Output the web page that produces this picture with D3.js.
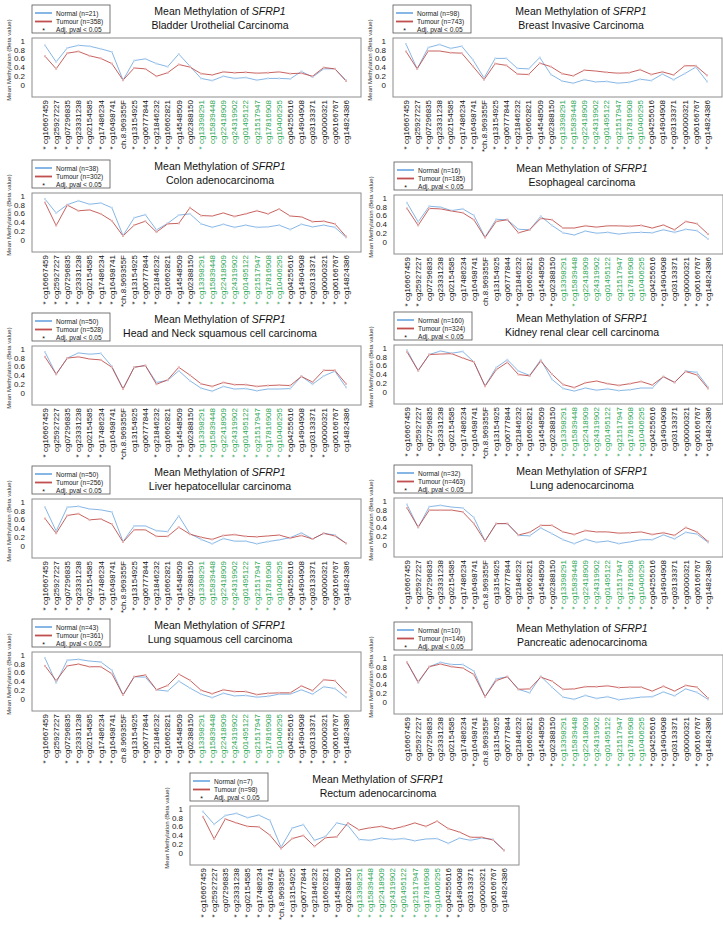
<!DOCTYPE html>
<html><head><meta charset="utf-8">
<script src="https://cdn.jsdelivr.net/npm/d3@7"></script>
<style>body{margin:0;background:#fff;} svg{display:block;font-family:"Liberation Sans",Arial,sans-serif;}</style>
</head><body><svg id="chart" width="723" height="926"></svg>
<script>
const probes = ["cg16667459","cg25927227","cg07296835","cg23331238","cg02154585","cg17486234","cg16498741","ch.8.969355F","cg13154925","cg06777844","cg21846232","cg16662821","cg14548509","cg02388150","cg13398291","cg15839448","cg22418909","cg24319902","cg01495122","cg21517947","cg17816908","cg10406295","cg04255616","cg14904908","cg03133371","cg00000321","cg06166767","cg14824386"];
const greenProbes = ["cg13398291","cg15839448","cg22418909","cg24319902","cg01495122","cg21517947","cg17816908","cg10406295"];
const cancerTypes = ["Bladder Urothelial Carcinoma","Breast Invasive Carcinoma","Colon adenocarcinoma","Esophageal carcinoma","Head and Neck squamous cell carcinoma","Kidney renal clear cell carcinoma","Liver hepatocellular carcinoma","Lung adenocarcinoma","Lung squamous cell carcinoma","Pancreatic adenocarcinoma","Rectum adenocarcinoma"];
const normalN = [21,98,38,16,50,160,50,32,43,10,7];
const tumourN = [358,743,302,185,528,324,256,463,361,146,98];
const yTicks = [0,0.2,0.4,0.6,0.8,1];

const bladderNormal = [0.90,0.52,0.84,0.90,0.88,0.82,0.75,0.10,0.55,0.59,0.48,0.41,0.70,0.42,0.14,0.09,0.19,0.14,0.16,0.10,0.14,0.14,0.13,0.30,0.17,0.36,0.36,0.10];
const bladderTumour = [0.65,0.36,0.72,0.76,0.66,0.60,0.48,0.10,0.38,0.36,0.19,0.27,0.46,0.40,0.25,0.22,0.29,0.27,0.28,0.26,0.27,0.29,0.25,0.26,0.19,0.39,0.36,0.08];
const breastNormal = [0.93,0.36,0.85,0.92,0.83,0.88,0.57,0.15,0.60,0.60,0.37,0.36,0.62,0.23,0.08,0.03,0.11,0.06,0.07,0.03,0.05,0.12,0.09,0.24,0.11,0.25,0.40,0.07];
const breastTumour = [0.76,0.36,0.77,0.77,0.73,0.72,0.42,0.11,0.48,0.44,0.24,0.23,0.49,0.41,0.25,0.20,0.33,0.31,0.28,0.26,0.27,0.34,0.23,0.29,0.22,0.43,0.43,0.21];
const colonNormal = [0.93,0.61,0.80,0.89,0.81,0.84,0.73,0.09,0.50,0.57,0.22,0.37,0.56,0.59,0.36,0.28,0.35,0.28,0.33,0.28,0.29,0.33,0.23,0.35,0.29,0.33,0.28,0.05];
const colonTumour = [0.85,0.32,0.79,0.66,0.68,0.59,0.43,0.08,0.33,0.42,0.17,0.36,0.37,0.73,0.55,0.54,0.61,0.53,0.59,0.66,0.59,0.70,0.54,0.52,0.41,0.42,0.36,0.07];
const esophagealNormal = [0.89,0.45,0.81,0.79,0.71,0.75,0.60,0.10,0.51,0.50,0.28,0.27,0.58,0.37,0.20,0.15,0.24,0.19,0.21,0.17,0.20,0.21,0.20,0.27,0.21,0.28,0.25,0.06];
const esophagealTumour = [0.76,0.37,0.76,0.75,0.70,0.66,0.50,0.09,0.46,0.50,0.20,0.27,0.53,0.50,0.31,0.31,0.36,0.33,0.36,0.36,0.35,0.37,0.31,0.38,0.27,0.46,0.41,0.17];
const headNeckNormal = [0.93,0.42,0.79,0.91,0.88,0.90,0.60,0.09,0.58,0.62,0.23,0.28,0.50,0.27,0.10,0.03,0.14,0.08,0.09,0.04,0.08,0.08,0.09,0.37,0.19,0.38,0.49,0.12];
const headNeckTumour = [0.82,0.42,0.79,0.82,0.77,0.75,0.58,0.08,0.58,0.62,0.19,0.29,0.58,0.40,0.20,0.14,0.23,0.18,0.18,0.14,0.16,0.17,0.16,0.37,0.24,0.51,0.51,0.20];
const kidneyNormal = [0.95,0.48,0.85,0.93,0.88,0.92,0.68,0.13,0.55,0.73,0.47,0.37,0.73,0.28,0.07,0.01,0.08,0.03,0.06,0.02,0.04,0.08,0.08,0.34,0.21,0.47,0.44,0.10];
const kidneyTumour = [0.91,0.48,0.85,0.86,0.87,0.77,0.68,0.12,0.50,0.67,0.39,0.36,0.70,0.40,0.16,0.09,0.20,0.24,0.18,0.14,0.18,0.23,0.15,0.34,0.21,0.46,0.38,0.07];
const liverNormal = [0.88,0.33,0.88,0.90,0.84,0.82,0.77,0.09,0.45,0.45,0.34,0.32,0.68,0.27,0.14,0.04,0.16,0.10,0.10,0.04,0.09,0.13,0.18,0.29,0.15,0.28,0.24,0.05];
const liverTumour = [0.62,0.28,0.69,0.73,0.59,0.61,0.49,0.08,0.36,0.36,0.21,0.21,0.42,0.26,0.19,0.14,0.23,0.25,0.21,0.20,0.22,0.24,0.17,0.23,0.15,0.28,0.22,0.05];
const lungAdenoNormal = [0.92,0.39,0.87,0.90,0.86,0.84,0.62,0.08,0.48,0.48,0.21,0.20,0.38,0.25,0.11,0.02,0.12,0.05,0.08,0.02,0.06,0.11,0.11,0.22,0.13,0.28,0.24,0.05];
const lungAdenoTumour = [0.84,0.40,0.79,0.79,0.79,0.75,0.48,0.08,0.48,0.48,0.22,0.28,0.44,0.44,0.29,0.23,0.32,0.29,0.29,0.26,0.27,0.29,0.23,0.27,0.21,0.39,0.29,0.07];
const lungSquamNormal = [0.93,0.36,0.88,0.90,0.86,0.84,0.65,0.08,0.50,0.49,0.20,0.17,0.40,0.24,0.10,0.02,0.12,0.06,0.07,0.03,0.05,0.10,0.10,0.20,0.10,0.27,0.23,0.03];
const lungSquamTumour = [0.75,0.41,0.75,0.79,0.73,0.73,0.57,0.08,0.50,0.54,0.20,0.30,0.56,0.42,0.19,0.11,0.20,0.16,0.16,0.09,0.12,0.13,0.13,0.29,0.18,0.43,0.41,0.14];
const pancreaticNormal = [0.90,0.43,0.80,0.90,0.85,0.85,0.70,0.11,0.52,0.57,0.28,0.20,0.58,0.33,0.10,0.05,0.14,0.07,0.11,0.04,0.07,0.10,0.11,0.22,0.13,0.29,0.21,0.05];
const pancreaticTumour = [0.90,0.45,0.80,0.86,0.80,0.77,0.62,0.11,0.48,0.57,0.28,0.29,0.56,0.47,0.28,0.29,0.34,0.34,0.36,0.32,0.33,0.33,0.24,0.35,0.24,0.37,0.33,0.08];
const rectumNormal = [0.94,0.65,0.85,0.90,0.80,0.86,0.74,0.12,0.56,0.64,0.28,0.37,0.68,0.62,0.30,0.28,0.33,0.30,0.32,0.27,0.31,0.32,0.21,0.33,0.28,0.33,0.30,0.05];
const rectumTumour = [0.82,0.31,0.77,0.68,0.60,0.59,0.40,0.09,0.32,0.39,0.14,0.34,0.36,0.68,0.52,0.57,0.60,0.54,0.60,0.68,0.60,0.72,0.55,0.47,0.35,0.35,0.29,0.05];

// indices of probes with adj. p < 0.05
const bladderSig = [0,1,2,3,4,5,6,8,9,10,11,12,14];
const breastSig = [0,2,3,4,5,6,7,8,9,10,11,12,13,14,15,16,17,18,19,20,21,22,24,25,27];
const colonSig = [0,1,2,3,4,5,6,7,8,9,10,12,13,14,15,16,17,18,19,20,21,22,23,24,25,26,27];
const esophagealSig = [0,1,10,13,15,23,25,26,27];
const headNeckSig = [0,3,4,5,7,10,12,13,14,15,16,17,18,19,20,21,22,24,25];
const kidneySig = [0,1,3,5,6,7,8,9,10,11,13,14,15,16,17,18,19,20,21,22,25,26,27];
const liverSig = [0,1,2,3,4,5,6,7,8,9,10,11,12,13,17,19,20,22,23,24,26];
const lungAdenoSig = [0,2,3,4,5,6,11,13,14,15,16,17,18,19,20,21,22,24,25,27];
const lungSquamSig = [0,2,3,4,5,6,9,10,11,12,13,14,15,16,17,18,19,20,21,23,24,25,26,27];
const pancreaticSig = [6,11,13,14,15,16,17,18,19,20,21,22,23,24,26,27];
const rectumSig = [0,1,3,4,5,6,7,8,9,10,12,14,15,16,17,18,19,20,21,22,23];

const normalSeries = [bladderNormal,breastNormal,colonNormal,esophagealNormal,headNeckNormal,kidneyNormal,liverNormal,lungAdenoNormal,lungSquamNormal,pancreaticNormal,rectumNormal];
const tumourSeries = [bladderTumour,breastTumour,colonTumour,esophagealTumour,headNeckTumour,kidneyTumour,liverTumour,lungAdenoTumour,lungSquamTumour,pancreaticTumour,rectumTumour];
const sigSeries = [bladderSig,breastSig,colonSig,esophagealSig,headNeckSig,kidneySig,liverSig,lungAdenoSig,lungSquamSig,pancreaticSig,rectumSig];

// layout
const panelOffsets = [[0,0],[361,0],[0,155],[362,157],[0,308],[362,307],[0,461],[362,460],[0,614],[362,617],[158,768]];
const BLUE = "#78aee2", RED = "#c0504d", GREEN = "#2aa553";

const svg = d3.select("#chart");
svg.append("rect").attr("width",723).attr("height",926).attr("fill","#fff");

const x = d3.scalePoint().domain(probes).range([45, 346]);
const y = d3.scaleLinear().domain([0,1]).range([84.5, 41]);
const line = d3.line().x((d,i)=>x(probes[i])).y(d=>y(d));

cancerTypes.forEach((name, p) => {
  const g = svg.append("g").attr("transform", `translate(${panelOffsets[p][0]},${panelOffsets[p][1]})`);
  g.append("rect").attr("x",32).attr("y",38).attr("width",329).attr("height",59)
    .attr("fill","none").attr("stroke","#8c8c8c").attr("stroke-width",1);
  const ya = g.append("g").attr("transform","translate(32,0)")
    .call(d3.axisLeft(y).tickValues(yTicks).tickSize(0).tickPadding(7).tickFormat(d=>String(d)));
  ya.select(".domain").remove();
  ya.selectAll("text").attr("font-size",8).attr("fill","#222").attr("font-family",null);
  g.append("text").attr("transform","translate(11,60) rotate(-90)").attr("text-anchor","middle")
    .attr("font-size",6).attr("fill","#333").text("Mean Methylation (Beta value)");
  const sig = new Set(sigSeries[p].map(i=>probes[i]));
  g.append("g").selectAll("text").data(probes).join("text")
    .attr("transform", d=>`translate(${x(d)+2.8},100) rotate(-90)`)
    .attr("text-anchor","end").attr("font-size",8)
    .attr("fill", d=> greenProbes.includes(d) ? GREEN : "#111")
    .text(d => sig.has(d) ? (d.startsWith("ch.") ? "*" + d : "* " + d) : d);
  [[normalSeries[p], BLUE, "#c4dcf2"], [tumourSeries[p], RED, "#e8b4b2"]].forEach(([vals,col,mk]) => {
    g.append("path").datum(vals).attr("d",line).attr("fill","none").attr("stroke",col).attr("stroke-width",0.9);
    g.append("g").selectAll("rect").data(vals).join("rect")
      .attr("x",(d,i)=>x(probes[i])-1).attr("y",d=>y(d)-1).attr("width",2).attr("height",2).attr("fill",mk);
  });
  const t = g.append("text").attr("x",220).attr("y",15).attr("text-anchor","middle").attr("font-size",10.5).attr("fill","#111");
  t.append("tspan").text("Mean Methylation of ");
  t.append("tspan").attr("font-style","italic").text("SFRP1");
  g.append("text").attr("x",220).attr("y",28.5).attr("text-anchor","middle").attr("font-size",10.5).attr("fill","#111").text(name);
  const lg = g.append("g");
  lg.append("rect").attr("x",32).attr("y",5).attr("width",78).attr("height",28).attr("fill","#fff").attr("stroke","#555").attr("stroke-width",0.8);
  const items = [[BLUE, `Normal (n=${normalN[p]})`], [RED, `Tumour (n=${tumourN[p]})`]];
  items.forEach(([c,txt],k) => {
    lg.append("line").attr("x1",35).attr("x2",52).attr("y1",13+k*8.5).attr("y2",13+k*8.5).attr("stroke",c).attr("stroke-width",1.8);
    lg.append("text").attr("x",56).attr("y",15.5+k*8.5).attr("font-size",6.6).attr("fill","#222").text(txt);
  });
  lg.append("text").attr("x",43.5).attr("y",33).attr("text-anchor","middle").attr("font-size",7).attr("fill","#111").text("*");
  lg.append("text").attr("x",56).attr("y",32).attr("font-size",6.6).attr("fill","#222").text("Adj. pval < 0.05");
});
</script></body></html>
